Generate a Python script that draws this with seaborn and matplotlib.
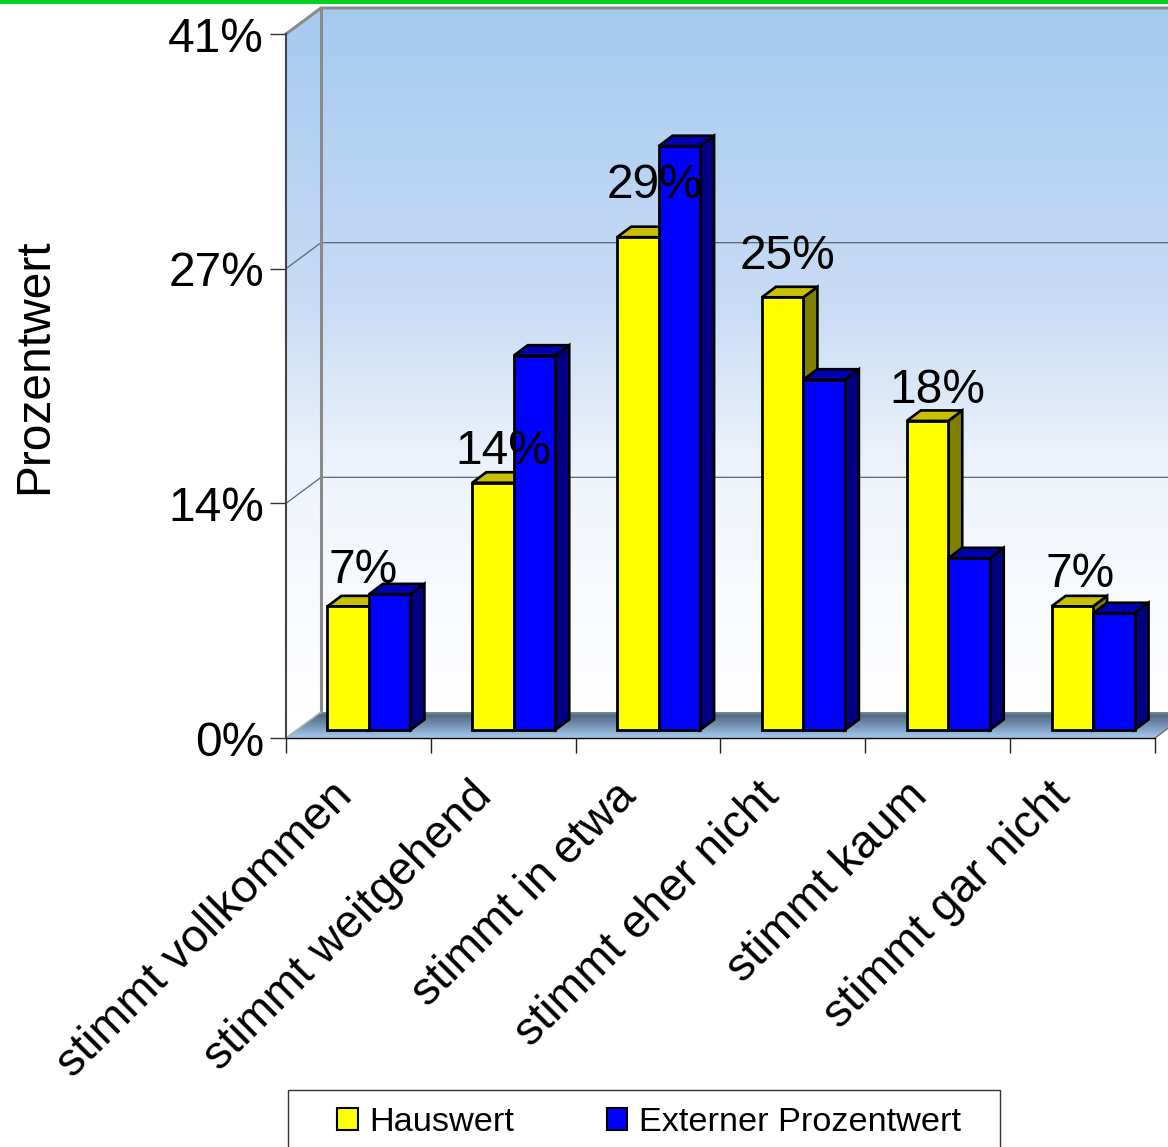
import numpy as np
import pandas as pd
import matplotlib
matplotlib.use("Agg")
import matplotlib.pyplot as plt
from matplotlib.colors import LinearSegmentedColormap
from matplotlib.patches import Polygon, Rectangle
from matplotlib.transforms import Affine2D
import seaborn as sns

categories = ["stimmt vollkommen", "stimmt weitgehend", "stimmt in etwa",
              "stimmt eher nicht", "stimmt kaum", "stimmt gar nicht"]
hauswert = [7.2, 14.4, 28.7, 25.2, 18.0, 7.2]
extern = [7.9, 21.8, 34.0, 20.4, 10.0, 6.8]
series_names = ["Hauswert", "Externer Prozentwert"]
y_ticks = [0, 41 / 3, 82 / 3, 41]
y_tick_labels = ["0%", "14%", "27%", "41%"]

# Pixel placement of the value labels around the top of each first bar
label_dx = [4.5, 0, 6, -5, 0, -2.5]
label_dy = [43.5, 39.5, 59.5, 48.5, 38.5, 39.5]
# Pixel distance of each slanted category label from its category centre
tick_label_dx = [-28, -34, -34, -36, -33, -35]

W, H, DPI = 1168, 1147, 100
AX_L, AX_R, AX_T, AX_B = 286, 1155, 34, 738
PX_X = (AX_R - AX_L) / 6
PX_Y = (AX_B - AX_T) / 41
BACK_X, BACK_Y = 35 / PX_X, 26 / PX_Y
DEPTH_X, DEPTH_Y = 14 / PX_X, 10.5 / PX_Y
PLANE_SHIFT = Affine2D().translate(10.5, 8)

sns.set_theme(style="white")
plt.rcParams["font.family"] = ["Liberation Sans", "DejaVu Sans"]

fig = plt.figure(figsize=(W / DPI, H / DPI), dpi=DPI, facecolor="white")
ax = fig.add_axes([AX_L / W, 1 - AX_B / H, (AX_R - AX_L) / W, (AX_B - AX_T) / H])
ax.patch.set_visible(False)

df = pd.DataFrame({
    "Kategorie": categories * 2,
    "Serie": np.repeat(series_names, len(categories)),
    "Wert": hauswert + extern,
})
sns.barplot(data=df, x="Kategorie", y="Wert", hue="Serie", hue_order=series_names,
            order=categories, palette=["#FFFF00", "#0000FF"], saturation=1,
            width=0.573, gap=0, edgecolor="black", linewidth=2.0, ax=ax)
legend_handles, legend_labels = ax.get_legend_handles_labels()
ax.get_legend().remove()

X0, X1 = -0.5, 5.5
ax.set_xlim(X0, X1)
ax.set_ylim(0, 41)

# Walls of the chart box, filled with a vertical gradient
wall_cmap = LinearSegmentedColormap.from_list(
    "wall", [(0, "#A6CAEF"), (0.42, "#C8DCF5"), (0.66, "#EFF4FC"), (1, "#FFFFFF")])
wall_outline = Polygon(
    [(X0, 0), (X0, 41), (X0 + BACK_X, 41 + BACK_Y), (X1 + BACK_X, 41 + BACK_Y),
     (X1 + BACK_X, BACK_Y), (X0 + BACK_X, BACK_Y)],
    closed=True, facecolor="none", edgecolor="none", transform=ax.transData)
ax.add_patch(wall_outline)
wall = ax.imshow(np.linspace(0, 1, 256).reshape(-1, 1), cmap=wall_cmap, aspect="auto",
                 extent=(X0, X1 + BACK_X, BACK_Y, 41 + BACK_Y), origin="upper", zorder=0.1)
wall.set_clip_path(wall_outline)
wall.set_clip_box(fig.bbox)

# Floor of the chart box
floor_cmap = LinearSegmentedColormap.from_list(
    "floor", [(0, "#7D8A98"), (0.12, "#506A84"), (0.6, "#7D9DBE"), (1, "#A6CAEF")])
floor_outline = Polygon(
    [(X0, 0), (X0 + BACK_X, BACK_Y), (X1 + BACK_X, BACK_Y), (X1, 0)],
    closed=True, facecolor="none", edgecolor="none", transform=ax.transData)
ax.add_patch(floor_outline)
floor = ax.imshow(np.linspace(0, 1, 64).reshape(-1, 1), cmap=floor_cmap, aspect="auto",
                  extent=(X0, X1 + BACK_X, 0, BACK_Y), origin="upper", zorder=0.2)
floor.set_clip_path(floor_outline)
floor.set_clip_box(fig.bbox)
ax.set_xlim(X0, X1)
ax.set_ylim(0, 41)

# Wall edges and horizontal grid lines
edge_style = dict(color="#8A8A8A", lw=2.2, clip_on=False, zorder=0.5)
ax.plot([X0, X0 + BACK_X, X1 + BACK_X], [41, 41 + BACK_Y, 41 + BACK_Y], **edge_style)
ax.plot([X0 + BACK_X, X0 + BACK_X], [BACK_Y, 41 + BACK_Y], **edge_style)
ax.plot([X0, X0 + BACK_X], [0, BACK_Y], color="#B0B0B0", lw=1.2, clip_on=False, zorder=0.5)
ax.plot([X1, X1 + BACK_X], [0, BACK_Y], color="#666666", lw=0.9, clip_on=False, zorder=0.5)
for tick in y_ticks[1:-1]:
    ax.plot([X0, X0 + BACK_X, X1 + BACK_X], [tick, tick + BACK_Y, tick + BACK_Y],
            color="#55677A", lw=0.9, clip_on=False, zorder=0.4)

# Side and top faces give each bar its depth
face_colors = [("#C8C000", "#808000"), ("#0000B0", "#000080")]
for level, container in enumerate(ax.containers):
    top_color, side_color = face_colors[level]
    for bar in container:
        x0, w, h = bar.get_x(), bar.get_width(), bar.get_height()
        x1 = x0 + w
        bar.set_transform(ax.transData + PLANE_SHIFT)
        bar.set_clip_on(False)
        bar.set_zorder(3.5 + level)
        bar.set_joinstyle("miter")
        side = [(x1, 0), (x1 + DEPTH_X, DEPTH_Y), (x1 + DEPTH_X, h + DEPTH_Y), (x1, h)]
        top = [(x0, h), (x0 + DEPTH_X, h + DEPTH_Y), (x1 + DEPTH_X, h + DEPTH_Y), (x1, h)]
        for verts, colour in ((side, side_color), (top, top_color)):
            ax.add_patch(Polygon(verts, closed=True, facecolor=colour, edgecolor="black",
                                 linewidth=1.9, joinstyle="miter", clip_on=False,
                                 zorder=3 + level,
                                 transform=ax.transData + PLANE_SHIFT))

# Value labels of the first series
for i, value in enumerate(hauswert):
    ax.annotate(f"{value:.0f}%", xy=(i, value),
                xytext=(label_dx[i], label_dy[i]), textcoords="offset pixels",
                ha="center", va="center", fontsize=34.5, color="black",
                annotation_clip=False, zorder=6)

# Axes
for name, spine in ax.spines.items():
    spine.set_visible(name in ("left", "bottom"))
    spine.set_zorder(2)
ax.spines["left"].set_color("#444444")
ax.spines["left"].set_linewidth(1.5)
ax.spines["bottom"].set_color("black")
ax.spines["bottom"].set_linewidth(1.0)

ax.set_yticks(y_ticks, y_tick_labels, fontsize=34.5)
ax.tick_params(axis="y", left=True, length=16 * 0.72, width=1.0, color="#333333",
               pad=4.4, labelcolor="black")
for label in ax.get_yticklabels():
    label.set_va("center_baseline")
centres = np.arange(len(categories))
ax.set_xticks(np.arange(X0, X1 + 0.5, 1.0), [""] * 7)
ax.set_xticks(centres + np.array(tick_label_dx) / PX_X, categories, minor=True)
ax.tick_params(axis="x", which="major", bottom=True, length=15 * 0.72, width=1.0, color="#222222")
ax.tick_params(axis="x", which="minor", bottom=True, length=0, pad=26, labelsize=33.4,
               labelcolor="black")
for label in ax.get_xticklabels(minor=True):
    label.set_rotation(45)
    label.set_ha("right")
    label.set_va("top")
    label.set_rotation_mode("anchor")
ax.set_xlabel("")
ax.set_ylabel("Prozentwert", fontsize=34.5, color="black", va="center")
ax.yaxis.set_label_coords((35 - AX_L) / (AX_R - AX_L), (AX_B - 366) / (AX_B - AX_T))

# Legend row with its frame running past the lower edge
fig.add_artist(Rectangle((288 / W, -0.01), 712 / W, 1 - 1090 / H + 0.01,
                         transform=fig.transFigure, facecolor="white",
                         edgecolor="#333333", linewidth=1.0))
legend = fig.legend(legend_handles, legend_labels, ncol=2, frameon=False, fontsize=24.7,
                    loc="upper left", bbox_to_anchor=(337 / W, 1 - 1107 / H),
                    borderaxespad=0, borderpad=0, handlelength=0.6, handleheight=0.6,
                    handletextpad=0.35, columnspacing=2.69, labelcolor="black")
for handle in legend.legend_handles:
    handle.set_edgecolor("black")
    handle.set_linewidth(1.5)

# Accent line along the upper edge
fig.add_artist(Rectangle((0, 1 - 4 / H), 1, 4 / H, transform=fig.transFigure,
                         facecolor="#00D020", edgecolor="none"))

fig.savefig("out.png", dpi=DPI)
